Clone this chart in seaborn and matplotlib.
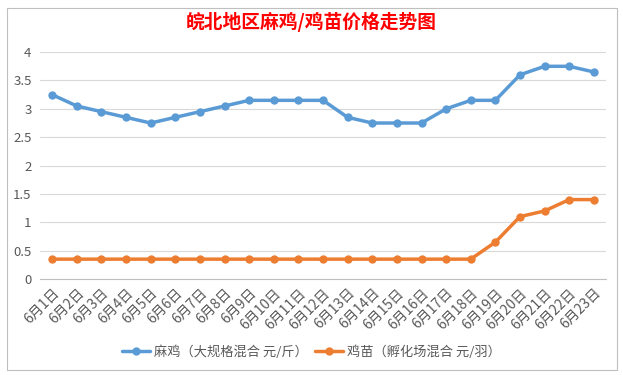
import matplotlib
matplotlib.use("Agg")
import matplotlib.pyplot as plt
import seaborn as sns
import pandas as pd
from matplotlib.patches import Rectangle

sns.set_style("white")
plt.rcParams['font.family'] = ['Noto Sans CJK SC', 'DejaVu Sans']

# data
dates = [f"6月{d}日" for d in range(1, 24)]
maji = [3.25, 3.05, 2.95, 2.85, 2.75, 2.85, 2.95, 3.05, 3.15, 3.15, 3.15, 3.15,
        2.85, 2.75, 2.75, 2.75, 3.0, 3.15, 3.15, 3.6, 3.75, 3.75, 3.65]
jimiao = [0.35] * 18 + [0.65, 1.1, 1.2, 1.4, 1.4]
series_names = ["麻鸡（大规格混合 元/斤）", "鸡苗（孵化场混合 元/羽）"]
colors = ["#5B9BD5", "#ED7D31"]

df = pd.DataFrame({"date": dates * 2,
                   "price": maji + jimiao,
                   "series": [series_names[0]] * 23 + [series_names[1]] * 23})
df["x"] = list(range(23)) * 2

fig = plt.figure(figsize=(6.23, 3.75), dpi=100)
ax = fig.add_axes([0.064, 0.256, 0.909, 0.605])

# chart border
fig.patches.append(Rectangle((7 / 623, 1 - 370 / 375), 610 / 623, 362 / 375,
                             transform=fig.transFigure, fill=False,
                             edgecolor="#bfbfbf", linewidth=0.8))

sns.lineplot(data=df, x="x", y="price", hue="series", palette=colors,
             marker="o", markersize=6, markeredgewidth=0, linewidth=2.5, ax=ax)

ax.set_xlim(-0.5, 22.5)
ax.set_ylim(0, 4)
ax.set_yticks([0, 0.5, 1, 1.5, 2, 2.5, 3, 3.5, 4])
ax.set_yticklabels(["0", "0.5", "1", "1.5", "2", "2.5", "3", "3.5", "4"],
                   color="#595959", fontsize=9.5)
ax.yaxis.grid(True, color="#d9d9d9", linewidth=0.8)
ax.set_axisbelow(True)
ax.set_xticks(range(23))
ax.set_xticklabels(dates, rotation=45, ha="right", rotation_mode="anchor",
                   color="#595959", fontsize=10)
ax.set_xticks([i - 0.5 for i in range(24)], minor=True)
ax.tick_params(axis="x", which="major", length=0, pad=5)
ax.tick_params(axis="x", which="minor", length=4, color="#bfbfbf", width=0.8)
ax.tick_params(axis="y", length=0, pad=6)
for s in ["top", "right", "left"]:
    ax.spines[s].set_visible(False)
ax.spines["bottom"].set_color("#bfbfbf")
ax.set_xlabel("")
ax.set_ylabel("")

fig.text(0.5, 1 - 22 / 375, "皖北地区麻鸡/鸡苗价格走势图", ha="center", va="center",
         color="#ff0000", fontsize=13.5, fontweight="bold")

handles, labels = ax.get_legend_handles_labels()
ax.legend(handles, labels, loc="center", bbox_to_anchor=(0.5, 1 - 352 / 375),
          bbox_transform=fig.transFigure, ncol=2, frameon=False, fontsize=9.5,
          labelcolor="#595959", handlelength=2.1, handletextpad=0.3,
          columnspacing=0.6)

fig.savefig("out.png", dpi=100)
